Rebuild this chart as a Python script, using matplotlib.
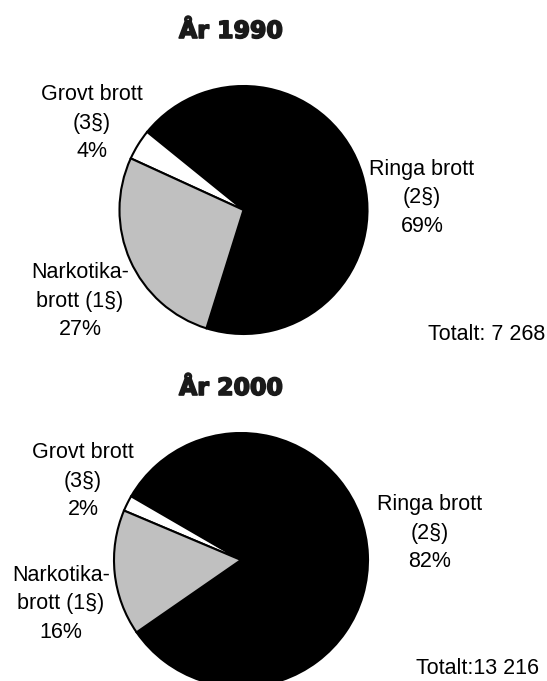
import matplotlib.pyplot as plt
import matplotlib.patheffects as pe

# figure size in pixels
W, H = 547, 681

categories = ['Ringa brott\n(2§)', 'Grovt brott\n(3§)', 'Narkotika-\nbrott (1§)']
share_1990 = [69, 4, 27]
share_2000 = [82, 2, 16]
years = ['År 1990', 'År 2000']
totals = ['Totalt: 7 268', 'Totalt:13 216']
colors = ['black', 'white', '#c0c0c0']

plt.rcParams['font.family'] = ['Liberation Sans', 'DejaVu Sans']

fig = plt.figure(figsize=(W / 100, H / 100), dpi=100)
ax = fig.add_axes([0, 0, 1, 1])


def py(y):
    # pixel row (top-down) -> data y (bottom-up)
    return H - y


layout = [
    dict(center=(243.5, 210), r=124, start=-107.4, title_y=31,
         label_xy=[(422, 198), (92, 123), (80, 301)], total=(545, 335)),
    dict(center=(241, 560), r=127, start=-145.3, title_y=388,
         label_xy=[(430, 533), (83, 481), (61, 604)], total=(539, 668)),
]

for vals, year, total, lay in zip([share_1990, share_2000], years, totals, layout):
    cx, cy = lay['center']
    ax.pie(vals, colors=colors, startangle=lay['start'], counterclock=True,
           center=(cx, py(cy)), radius=lay['r'],
           wedgeprops=dict(edgecolor='black', linewidth=1.5))
    ax.text(231, py(lay['title_y']), year, ha='center', va='center',
            fontsize=17, fontweight='bold', family='DejaVu Sans', color='#1a1a1a',
            path_effects=[pe.withStroke(linewidth=1.2, foreground='#1a1a1a')])
    for cat, v, (lx, ly) in zip(categories, vals, lay['label_xy']):
        ax.text(lx, py(ly), f'{cat}\n{v}%', ha='center', va='center',
                fontsize=15.5, linespacing=1.45)
    tx, ty = lay['total']
    ax.text(tx, py(ty), total, ha='right', va='center', fontsize=15.5)

ax.set_xlim(0, W)
ax.set_ylim(0, H)
ax.axis('off')

plt.savefig('out.png', dpi=100)
